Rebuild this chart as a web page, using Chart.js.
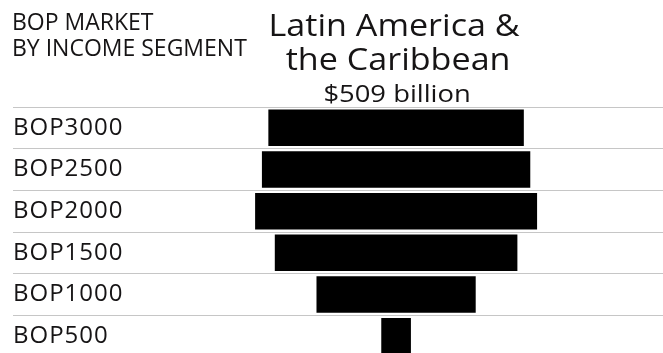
<!DOCTYPE html>
<html>
<head>
<meta charset="utf-8">
<script src="https://cdn.jsdelivr.net/npm/chart.js@4.4.1/dist/chart.umd.min.js"></script>
<style>
  html, body { margin: 0; padding: 0; background: #fff; overflow: hidden; }
  canvas { display: block; }
</style>
</head>
<body>
<canvas id="bopChart" width="663" height="358"></canvas>
<script>
// income segments, top to bottom
var segments = ['BOP3000', 'BOP2500', 'BOP2000', 'BOP1500', 'BOP1000', 'BOP500'];
// market size per segment, $ billion (total ~509)
var marketBn = [105.1, 110.4, 116.0, 99.8, 65.5, 12.2];
var sideHeading = ['BOP MARKET', 'BY INCOME SEGMENT'];
var regionName = ['Latin America &', 'the Caribbean'];
var regionTotal = '$509 billion';

var ink = '#161415';

function stretchText(ctx, text, x, y, sx) {
  ctx.save();
  ctx.translate(x, y);
  ctx.scale(sx, 1);
  ctx.fillText(text, 0, 0);
  ctx.restore();
}

var headerText = {
  id: 'headerText',
  beforeDraw: function(chart) {
    chart.ctx.letterSpacing = '1px';
  },
  afterDraw: function(chart) {
    var ctx = chart.ctx;
    var cx = chart.scales.x.getPixelForValue(0);
    ctx.save();
    ctx.letterSpacing = '0px';
    ctx.fillStyle = ink;
    ctx.textBaseline = 'alphabetic';

    ctx.textAlign = 'left';
    ctx.font = '500 23px "Open Sans"';
    ctx.fillText(sideHeading[0], 12, 29.5);
    ctx.fillText(sideHeading[1], 12, 56);

    ctx.textAlign = 'center';
    ctx.font = '500 31px "Open Sans"';
    stretchText(ctx, regionName[0], cx - 2, 35.5, 1.1);
    stretchText(ctx, regionName[1], cx + 2, 70, 1.1);
    ctx.font = '500 23px "Open Sans"';
    stretchText(ctx, regionTotal, cx + 1, 101.5, 1.19);
    ctx.restore();
  }
};

var ctx = document.getElementById('bopChart');
var bopChart = new Chart(ctx, {
  type: 'bar',
  data: {
    labels: segments,
    datasets: [{
      label: 'BOP market ($ billion)',
      data: marketBn.map(function(v) { return [-v / 2, v / 2]; }),
      backgroundColor: '#000000',
      borderWidth: 0,
      barPercentage: 0.875,
      categoryPercentage: 1.0
    }]
  },
  options: {
    indexAxis: 'y',
    responsive: false,
    animation: false,
    layout: {
      padding: { top: 107, left: 13, right: 0, bottom: 1 }
    },
    scales: {
      x: {
        display: false,
        min: -157.6,
        max: 109.8
      },
      y: {
        position: 'left',
        border: { display: false },
        grid: {
          color: '#c6c6c6',
          lineWidth: 1,
          drawTicks: false
        },
        ticks: {
          mirror: true,
          padding: 0,
          color: ink,
          font: { family: '"Open Sans"', size: 24, weight: '500' }
        },
        // labels sit inside their bands, so no extra room above/below
        afterFit: function(scale) {
          scale.paddingTop = 0;
          scale.paddingBottom = 0;
        }
      }
    },
    plugins: {
      legend: { display: false },
      title: { display: false },
      tooltip: { enabled: false }
    }
  },
  plugins: [headerText]
});
</script>
</body>
</html>
